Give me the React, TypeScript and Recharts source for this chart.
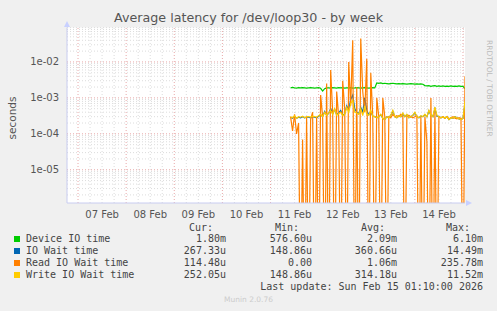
import { LineChart, Line, XAxis, YAxis, CartesianGrid, ReferenceLine } from "recharts";

// x axis: hours counted from 07 Feb 00:00
const dayLabels = ["07 Feb", "08 Feb", "09 Feb", "10 Feb", "11 Feb", "12 Feb", "13 Feb", "14 Feb"];
const dayLabelHours = [12, 36, 60, 84, 108, 132, 156, 180];
const firstSampleHour = 106; // 11 Feb 10:00, one sample per hour

// values in milliseconds
const deviceMs = [
  1.9, 1.95, 1.9, 1.88, 1.92, 1.9, 1.93, 1.9, 1.87, 1.9, 1.92, 1.9, 1.88, 1.9, 1.92,
  1.85, 1.55, 1.8, 1.9, 1.9, 1.88, 1.92, 1.9, 1.87, 1.93, 1.9, 1.92, 1.88, 1.9, 1.9,
  1.92, 1.88, 1.9, 1.93, 1.9, 1.87, 1.9, 1.92, 1.9, 1.88, 1.9, 1.92, 1.9,
  2.6,
  2.55, 2.6, 2.5, 2.55, 2.5, 2.45, 2.5, 2.55, 2.5, 2.45, 2.5, 2.45, 2.5, 2.45, 2.4, 2.45, 2.5, 2.45, 2.4, 2.45, 2.4, 2.45, 2.4,
  2.2, 2.15, 2.2, 2.1, 2.15, 2.2, 2.1, 2.15, 2.1, 2.15, 2.1, 2.12, 2.1, 2.15, 2.1, 2.12, 2.1, 2.15, 2.1, 2.1, 1.8,
];
const ioWaitMs = [
  0.29, 0.27, 0.31, 0.27, 0.29, 0.28, 0.3, 0.28, 0.29, 0.29, 0.28, 0.3, 0.29, 0.28, 0.31,
  0.34, 0.3, 0.42, 0.33, 0.37, 0.5, 0.36, 0.48, 0.34, 0.38, 0.45, 0.33, 0.36, 0.6, 0.45,
  0.9, 1.2, 0.5, 0.4, 0.36, 0.55, 0.4, 1.0, 0.45, 0.34, 0.42, 0.31, 0.3,
  0.28, 0.3, 0.34, 0.27, 0.25, 0.3, 0.28, 0.33, 0.42, 0.3, 0.28, 0.32, 0.3, 0.36, 0.3, 0.34, 0.28, 0.3, 0.33, 0.38, 0.3, 0.28, 0.31, 0.3,
  0.34, 0.3, 0.43, 0.33, 0.3, 0.5, 0.31, 0.3, 0.28, 0.3, 0.27, 0.3, 0.25, 0.28, 0.27, 0.3, 0.28, 0.26, 0.25, 0.27, 0.7,
];
const readMs = [
  0.3, 0.12, 0.35, 0.1, 0.2, 0, 0.07, 0, 0.3, 0, 0.25, 0.4, 0, 0.3, 0,
  1.2, 0.3, 0, 2.5, 0, 6, 0.4, 0, 1.5, 0.3, 0, 3, 0.5, 0, 10,
  0.6, 40, 0, 2, 0, 45, 1.5, 0.4, 12, 0, 5, 0.3, 0,
  1.0, 0.3, 0, 1.0, 0.3, 0, 0.3, 0.28, 0.35, 0.3, 0.32, 0.3, 0.35, 0.3, 0, 0.3, 0.33, 0.3, 0.28, 0.3, 0.32, 0, 0.3, 0,
  0.3, 0.06, 0, 1.0, 0, 0.5, 0, 0.3, 0.28, 0.3, 0.27, 0.3, 0.26, 0.28, 0.3, 0.27, 0.26, 0.28, 0.27, 0, 4,
];
const writeMs = [
  0.3, 0.28, 0.32, 0.27, 0.3, 0.29, 0.31, 0.28, 0.3, 0.3, 0.29, 0.31, 0.3, 0.29, 0.32,
  0.35, 0.3, 0.4, 0.33, 0.38, 0.45, 0.35, 0.5, 0.33, 0.36, 0.4, 0.32, 0.35, 0.55, 0.4,
  0.7, 0.85, 0.4, 0.38, 0.35, 0.5, 0.32, 0.6, 0.35, 0.33, 0.45, 0.31, 0.3,
  0.28, 0.3, 0.35, 0.27, 0.25, 0.3, 0.28, 0.33, 0.45, 0.3, 0.28, 0.32, 0.3, 0.38, 0.3, 0.35, 0.28, 0.3, 0.33, 0.4, 0.3, 0.28, 0.32, 0.3,
  0.35, 0.3, 0.45, 0.33, 0.3, 0.55, 0.32, 0.3, 0.28, 0.3, 0.27, 0.3, 0.25, 0.28, 0.27, 0.3, 0.28, 0.26, 0.25, 0.27, 0.8,
];

const series = [
  { key: "device", name: "Device IO time", color: "#00cc00", values: deviceMs, cur: "1.80m", min: "576.60u", avg: "2.09m", max: "6.10m" },
  { key: "iowait", name: "IO Wait time", color: "#0066b3", values: ioWaitMs, cur: "267.33u", min: "148.86u", avg: "360.66u", max: "14.49m" },
  { key: "read", name: "Read IO Wait time", color: "#ff8000", values: readMs, cur: "114.48u", min: "0.00", avg: "1.06m", max: "235.78m" },
  { key: "write", name: "Write IO Wait time", color: "#ffcc00", values: writeMs, cur: "252.05u", min: "148.86u", avg: "314.18u", max: "11.52m" },
];

const yTicks = [1e-5, 1e-4, 1e-3, 1e-2];
const yTickLabels = ["1e-05", "1e-04", "1e-03", "1e-02"];
const Y_MIN = 1.19e-6;
const Y_MAX = 0.0908;
const X_MIN = -5.5;
const X_MAX = 193;

// values of 0 cannot sit on a log axis, push them below the plot
const data = deviceMs.map((_, i) => {
  const row: any = { t: firstSampleHour + i };
  series.forEach((s) => {
    const v = s.values[i];
    row[s.key] = v > 0 ? v / 1000 : 1e-9;
  });
  return row;
});

const minorY: number[] = [];
for (let e = -6; e <= -2; e++) {
  for (let m = 2; m <= 9; m++) {
    const v = m * Math.pow(10, e);
    if (v > Y_MIN && v < Y_MAX) minorY.push(v);
  }
}
const gridHours: number[] = [];
for (let h = 0; h <= X_MAX; h += 6) gridHours.push(h);

const W = 497;
const H = 311;
const text = "#555";
const mono = "'DejaVu Sans Mono', monospace";
const sans = "'DejaVu Sans', sans-serif";

const colRight = [226, 312, 397, 483];
const headRight = [213, 299, 385, 470];
const heads = ["Cur:", "Min:", "Avg:", "Max:"];
const rowY = [239, 251, 263, 275];

export default function App() {
  return (
    <div style={{ position: "absolute", left: 0, top: 0, width: W, height: H, background: "#f0f0f0", overflow: "hidden", fontFamily: sans }}>
      <div style={{ position: "absolute", left: 0, width: W, top: 10, textAlign: "center", fontSize: 12.7, color: text }}>
        Average latency for /dev/loop30 - by week
      </div>
      <div style={{ position: "absolute", left: 12, top: 118, transform: "translate(-50%, -50%) rotate(-90deg)", fontSize: 10.5, color: text, whiteSpace: "nowrap" }}>
        seconds
      </div>
      <div style={{ position: "absolute", left: 485, top: 40, writingMode: "vertical-rl", fontSize: 7.5, color: "#bbb", whiteSpace: "nowrap" }}>
        RRDTOOL / TOBI OETIKER
      </div>

      <div style={{ position: "absolute", left: 0, top: 0 }}>
        <LineChart width={W} height={H} data={data} margin={{ top: 27.5, right: 32, bottom: 88, left: 7 }}>
          <CartesianGrid fill="#ffffff" horizontal={false} vertical={false} />
          {minorY.map((v) => (
            <ReferenceLine key={"my" + v} y={v} stroke="#dcdcdc" strokeDasharray="1 2" />
          ))}
          {gridHours.filter((h) => h % 24 !== 0).map((h) => (
            <ReferenceLine key={"mx" + h} x={h} stroke="#dcdcdc" strokeDasharray="1 2" />
          ))}
          {yTicks.map((v) => (
            <ReferenceLine key={"My" + v} y={v} stroke="#e8a8a8" strokeDasharray="1 2" />
          ))}
          {gridHours.filter((h) => h % 24 === 0).map((h) => (
            <ReferenceLine key={"Mx" + h} x={h} stroke="#e8a8a8" strokeDasharray="1 2" />
          ))}
          <XAxis
            dataKey="t"
            type="number"
            domain={[X_MIN, X_MAX]}
            allowDataOverflow
            ticks={dayLabelHours}
            tickFormatter={(v) => dayLabels[dayLabelHours.indexOf(v)]}
            tick={{ fontSize: 10, fill: text, fontFamily: sans }}
            tickLine={false}
            axisLine={{ stroke: "#c8ccf0" }}
            height={20}
          />
          <YAxis
            scale="log"
            type="number"
            domain={[Y_MIN, Y_MAX]}
            allowDataOverflow
            ticks={yTicks}
            tickFormatter={(v) => yTickLabels[yTicks.indexOf(v)]}
            tick={{ fontSize: 10, fill: text, fontFamily: sans }}
            tickLine={false}
            axisLine={{ stroke: "#c8ccf0" }}
            width={60}
          />
          {series.map((s) => (
            <Line
              key={s.key}
              dataKey={s.key}
              stroke={s.color}
              strokeWidth={1.2}
              dot={false}
              type="linear"
              isAnimationActive={false}
            />
          ))}
        </LineChart>
      </div>

      <svg style={{ position: "absolute", left: 0, top: 0 }} width={W} height={H}>
        <polygon points="64,27 70,27 67,21" fill="#c8d0ff" />
        <polygon points="466,200 466,206 472,203" fill="#c8d0ff" />
      </svg>

      <div style={{ fontFamily: mono, fontSize: 10, color: "#444" }}>
        {heads.map((h, i) => (
          <div key={h} style={{ position: "absolute", right: W - headRight[i], top: 228 - 6, lineHeight: "12px", whiteSpace: "pre" }}>
            {h}
          </div>
        ))}
        {series.map((s, r) => (
          <div key={s.key}>
            <div style={{ position: "absolute", left: 14, top: rowY[r] - 3, width: 6, height: 6, background: s.color }} />
            <div style={{ position: "absolute", left: 26, top: rowY[r] - 6, lineHeight: "12px", whiteSpace: "pre" }}>{s.name}</div>
            {[s.cur, s.min, s.avg, s.max].map((v, i) => (
              <div key={i} style={{ position: "absolute", right: W - colRight[i], top: rowY[r] - 6, lineHeight: "12px", whiteSpace: "pre" }}>
                {v}
              </div>
            ))}
          </div>
        ))}
        <div style={{ position: "absolute", right: W - 483, top: 287 - 6, lineHeight: "12px", whiteSpace: "pre" }}>
          Last update: Sun Feb 15 01:10:00 2026
        </div>
      </div>
      <div style={{ position: "absolute", left: 0, width: W, top: 295, textAlign: "center", fontSize: 7.5, color: "#ccc" }}>
        Munin 2.0.76
      </div>
    </div>
  );
}
